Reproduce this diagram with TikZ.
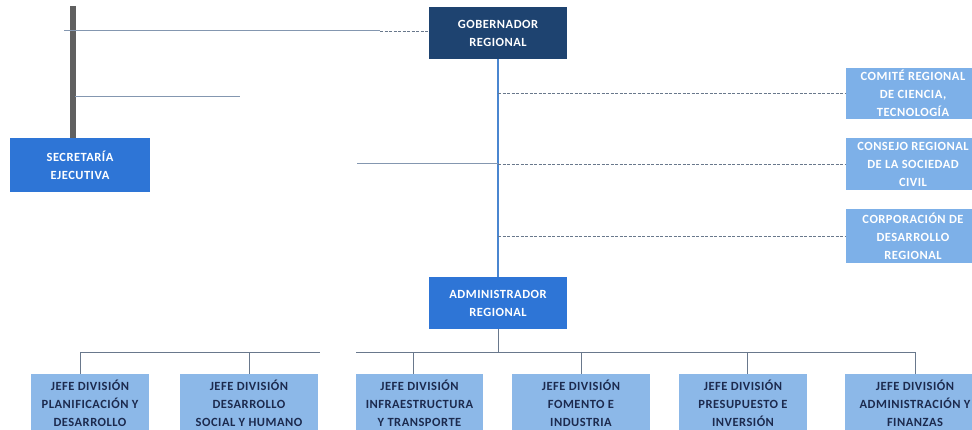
\documentclass[tikz,border=0pt]{standalone}
\usepackage{fontspec}
\setmainfont{Carlito}
\newfontfamily\orgfont[LetterSpace=4]{Carlito}
\usetikzlibrary{positioning}

\definecolor{navybox}{RGB}{30,67,112}
\definecolor{midbox}{RGB}{46,117,214}
\definecolor{lightbox}{RGB}{125,176,232}
\definecolor{paletxt}{RGB}{140,184,232}
\definecolor{darktxt}{RGB}{28,42,78}
\definecolor{thinline}{RGB}{132,151,176}
\definecolor{stemline}{RGB}{74,134,208}
\definecolor{busline}{RGB}{105,120,140}

\tikzset{
  orgbox/.style={rectangle,inner sep=2pt,align=center,
    font=\orgfont\fontsize{12.5}{18}\selectfont\bfseries},
  headbox/.style={orgbox,fill=navybox,text=white,minimum width=138pt,minimum height=52pt},
  midunit/.style={orgbox,fill=midbox,text=white,minimum width=138pt,minimum height=52pt},
  council/.style={orgbox,fill=lightbox,text=white,minimum width=135pt,minimum height=52pt},
  division/.style={orgbox,fill=paletxt,text=darktxt,anchor=north,minimum height=58pt},
  link/.style={thinline,line width=1pt},
  dashlink/.style={busline,line width=0.9pt,dashed,dash pattern=on 3pt off 1.5pt},
}

\begin{document}
\begin{tikzpicture}[x=1pt,y=-1pt]
\useasboundingbox (0,0) rectangle (972,430);

% cabeza
\node[headbox] (gob) at (498,33) {GOBERNADOR\\REGIONAL};
\node[midunit,minimum width=140pt,minimum height=54pt] (sec) at (80,165) {SECRETARÍA\\EJECUTIVA};
\node[midunit] (adm) at (498,303) {ADMINISTRADOR\\REGIONAL};

% consejos a la derecha
\node[council,minimum height=51pt] (comite) at (913,93.5) {COMITÉ REGIONAL\\DE CIENCIA,\\TECNOLOGÍA};
\node[council] (consejo) at (913,164) {CONSEJO REGIONAL\\DE LA SOCIEDAD\\CIVIL};
\node[council,minimum height=54pt] (corp) at (913,236) {CORPORACIÓN DE\\DESARROLLO\\REGIONAL};

% divisiones
\node[division,minimum width=118pt] (plan) at (90,374) {JEFE DIVISIÓN\\PLANIFICACIÓN Y\\DESARROLLO};
\node[division,minimum width=138pt] (social) at (249,374) {JEFE DIVISIÓN\\DESARROLLO\\SOCIAL Y HUMANO};
\node[division,minimum width=127pt] (infra) at (419.5,374) {JEFE DIVISIÓN\\INFRAESTRUCTURA\\Y TRANSPORTE};
\node[division,minimum width=138pt] (fomento) at (581,374) {JEFE DIVISIÓN\\FOMENTO E\\INDUSTRIA};
\node[division,minimum width=128pt] (presup) at (743,374) {JEFE DIVISIÓN\\PRESUPUESTO E\\INVERSIÓN};
\node[division,minimum width=140pt] (finanzas) at (915,374) {JEFE DIVISIÓN\\ADMINISTRACIÓN Y\\FINANZAS};

% barra y lineas de la izquierda
\coordinate (bartop) at (73,6);
\coordinate (topa) at (64,31);
\coordinate (topb) at (380,31);
\coordinate (mida) at (75,97);
\coordinate (midb) at (240,97);
\coordinate (civa) at (357,164);
\draw[line width=6pt,gray!75!black] (bartop) -- (bartop |- sec.north);
\draw[link] (topa) -- (topb);
\draw[dashlink] (topb) -- (topb -| gob.west);
\draw[link] (mida) -- (midb);

% tronco central
\draw[stemline,line width=1.2pt] (gob.south) -- (adm.north);
\draw[dashlink] (gob.south |- comite.west) -- (comite.west);
\draw[link] (civa) -- (civa -| gob.south);
\draw[dashlink] (gob.south |- consejo.west) -- (consejo.west);
\draw[dashlink] (gob.south |- corp.west) -- (corp.west);

% barra de divisiones
\coordinate (busl) at (80,352);
\coordinate (busm) at (320,352);
\coordinate (busn) at (356,352);
\coordinate (busr) at (915,352);
\draw[busline,line width=1pt] (adm.south) -- (adm.south |- busl);
\draw[busline,line width=1pt] (busl) -- (busm);
\draw[busline,line width=1pt] (busn) -- (busr);
\draw[busline,line width=1pt] (busl) -- (busl |- plan.north);
\draw[busline,line width=1pt] (social.north |- busl) -- (social.north);
\draw[busline,line width=1pt] (413,352) -- (413,374);
\draw[busline,line width=1pt] (fomento.north |- busl) -- (fomento.north);
\draw[busline,line width=1pt] (747,352) -- (747,374);
\draw[busline,line width=1pt] (busr) -- (busr |- finanzas.north);
\end{tikzpicture}
\end{document}
